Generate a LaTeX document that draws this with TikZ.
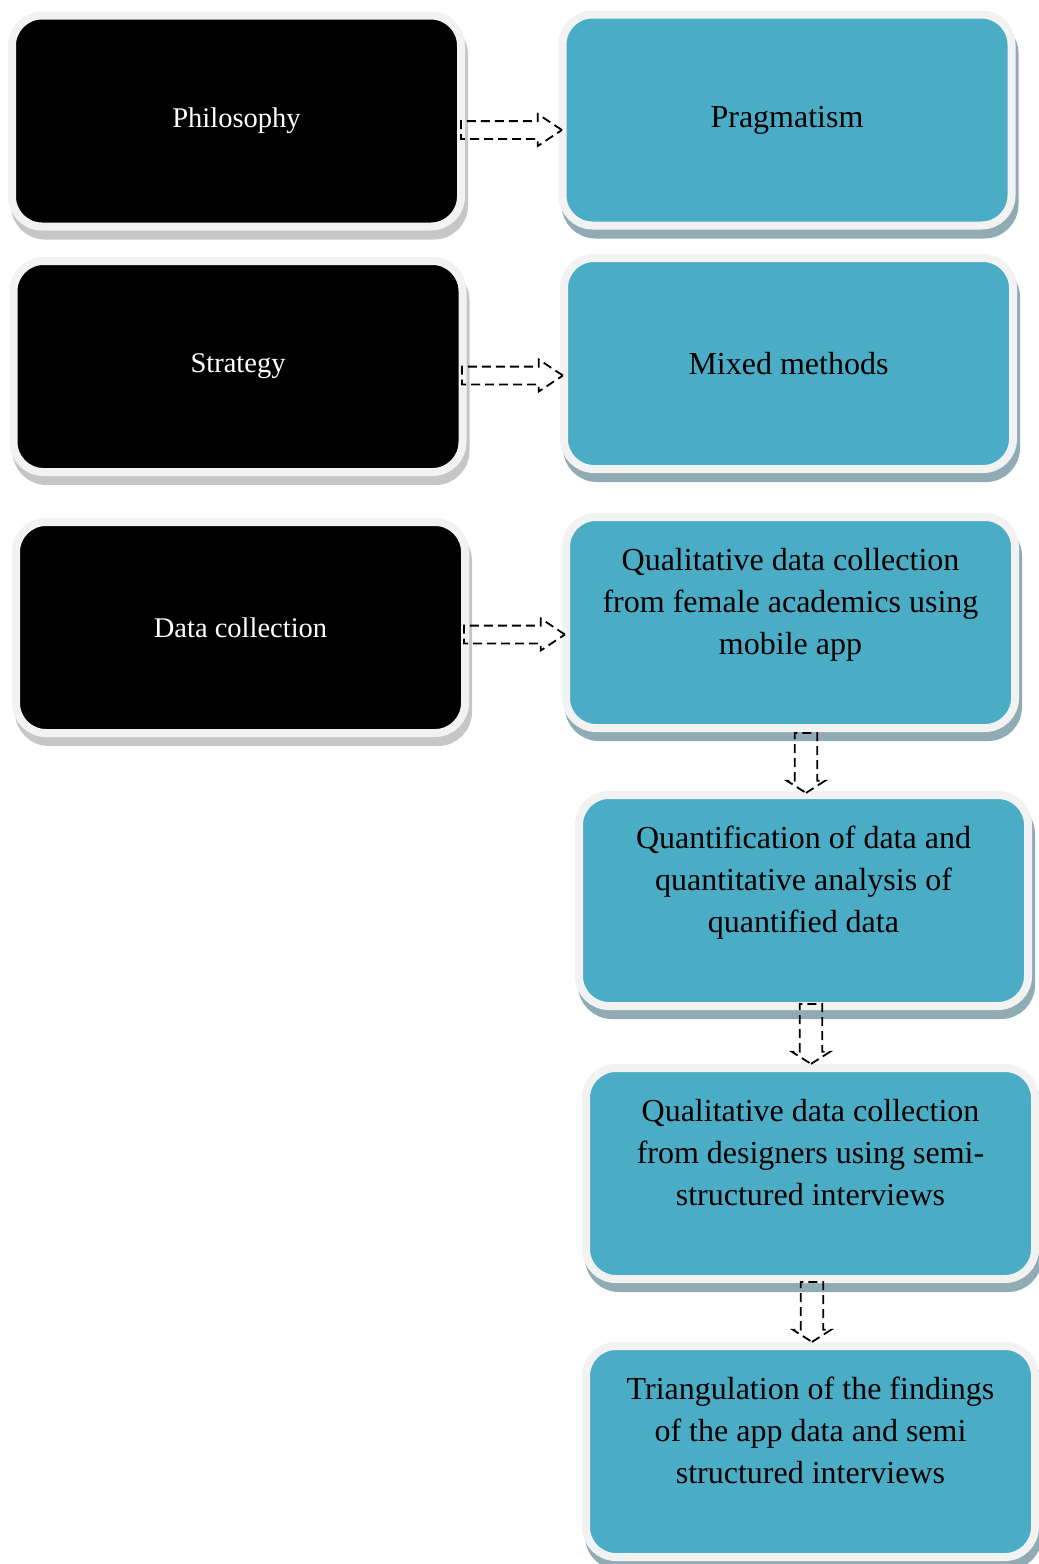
\documentclass[tikz,border=0pt]{standalone}
\usepackage{fontspec}
\setmainfont{Liberation Serif}
\usetikzlibrary{calc,shapes.arrows,shadows}
\definecolor{Teal}{HTML}{4BACC6}
\definecolor{Rim}{HTML}{F2F2F2}
\definecolor{TealShade}{HTML}{91ABB5}
\definecolor{GreyShade}{HTML}{C6C6C6}
\tikzset{
  stagebox/.style={rounded corners=30pt,draw=Rim,line width=8pt,minimum width=449pt,minimum height=211pt,inner sep=0pt,align=center},
  darkbox/.style={stagebox,fill=black,text=white,font=\fontsize{28.5}{40}\selectfont,
    general shadow={fill=GreyShade,draw=GreyShade,line width=8pt,shadow xshift=3pt,shadow yshift=-9pt}},
  tealbox/.style={stagebox,fill=Teal,text=black,font=\fontsize{32}{42}\selectfont,
    general shadow={fill=TealShade,draw=TealShade,line width=8pt,shadow xshift=3pt,shadow yshift=-9pt}},
  dasharrow/.style={single arrow,draw=black,line width=1.8pt,dash pattern=on 9pt off 5pt,single arrow head indent=0pt,anchor=tail},
  rightarrow/.style={dasharrow,inner sep=8pt,minimum height=101pt,minimum width=32pt,single arrow tip angle=67},
  downarrow/.style={dasharrow,inner sep=9.5pt,shape border rotate=270,minimum height=60pt,minimum width=38pt,single arrow tip angle=115}
}
\begin{document}
\begin{tikzpicture}[x=1pt,y=-1pt]
  \useasboundingbox(0,0)rectangle(1039,1564);
  % left column
  \node[darkbox](phil)at(236.5,121){Philosophy};
  \node[darkbox](strat)at(238,366.5){Strategy};
  \node[darkbox](datac)at(240.5,627.5){Data collection};
  % right column
  \node[tealbox](prag)at(787,120){Pragmatism};
  \node[tealbox](mixed)at(788.5,363.5){Mixed methods};
  \node[tealbox](qualapp)at(790.5,622.5){Qualitative data collection\\from female academics using\\mobile app\\\mbox{}};
  \node[tealbox](quant)at(803.5,900.5){Quantification of data and\\quantitative analysis of\\quantified data\\\mbox{}};
  \node[tealbox](qualint)at(810.5,1173.5){Qualitative data collection\\from designers using semi-\\structured interviews\\\mbox{}};
  \node[tealbox](triang)at(810.5,1451.5){Triangulation of the findings\\of the app data and semi\\structured interviews\\\mbox{}};
  % arrows
  \node[rightarrow](a1)at($(phil.east)+(-5,9)$){};
  \node[rightarrow](a2)at($(strat.east)+(-5.5,9)$){};
  \node[rightarrow](a3)at($(datac.east)+(-6,7)$){};
  \node[downarrow](a4)at($(qualapp.south)+(15.5,0)$){};
  \node[downarrow](a5)at($(quant.south)+(7.5,-7)$){};
  \node[downarrow](a6)at($(qualint.south)+(1.5,-2)$){};
\end{tikzpicture}
\end{document}
